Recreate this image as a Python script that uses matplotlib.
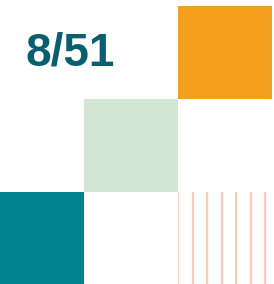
import matplotlib.pyplot as plt
import numpy as np
from matplotlib.patches import Rectangle

# fraction shown in the top-left cell
numerator = 8
denominator = 51

# tiles on a 3x3 grid: column, row, fill
tile_cols = [2, 1, 0]
tile_rows = [0, 1, 2]
tile_colors = ['#f59f1e', '#d3e6d4', '#00838f']

# striped tile
stripe_col = 2
stripe_row = 2
stripe_color = '#f8cbbb'

fig = plt.figure(figsize=(2.74, 2.84), dpi=100)
ax = fig.add_axes([0, 0, 1, 1])
ax.set_xlim(10 / 94, 284 / 94)
ax.set_ylim(278 / 93, -6 / 93)
ax.axis('off')

for c, r, col in zip(tile_cols, tile_rows, tile_colors):
    ax.add_patch(Rectangle((c, r), 1, 1, facecolor=col, edgecolor='none'))

# vertical stripes
xs = stripe_col + np.arange(7) * 0.154 + 0.003
for i, x in enumerate(xs):
    ax.plot([x, x], [stripe_row, stripe_row + 1.1], color=stripe_color,
            lw=0.6 if i == 0 else 1.6, solid_capstyle='butt')

ax.text(0.855, 0.64, '%d/%d' % (numerator, denominator), ha='center', va='baseline',
        fontsize=33, fontweight='bold', color='#0b5e70', family='Liberation Sans')

fig.savefig('out.png', dpi=100)
